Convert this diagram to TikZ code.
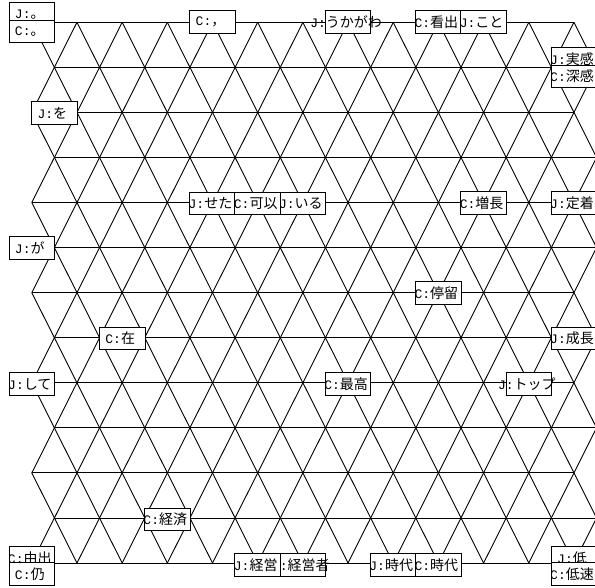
\documentclass[tikz,border=0pt]{standalone}
\usepackage{fontspec}
\newfontfamily\jp{Noto Sans CJK JP}
\newfontfamily\pf{Liberation Mono}
\tikzset{
  grid/.style={line width=0.9pt, black},
  box/.style={draw=black, line width=0.9pt, fill=white, minimum width=45.6pt, minimum height=22.6pt, inner sep=0pt, outer sep=0pt},
  txt/.style={inner sep=0pt, font=\jp\fontsize{14}{14}\selectfont, anchor=center}
}
% name, x, y, prefix, text, extra clip left, extra clip right
\newcommand\lbl[7]{%
  \node[box] (#1) at (#2,#3) {};
  \begin{scope}
    \clip ([xshift=-#6pt]#1.south west) rectangle ([xshift=#7pt]#1.north east);
    \node[txt] (#1t) at ([xshift=-2pt]#1.center) {{\pf\fontsize{13}{13}\selectfont #4}#5};
  \end{scope}}
\begin{document}
\begin{tikzpicture}[x=1pt,y=-1pt]
\useasboundingbox (0,0) rectangle (595,588);
\fill[white] (0,0) rectangle (595,588);
\clip (0,0) rectangle (595,588);
\def\xo{31.8}\def\sx{45.18}\def\yo{22.3}\def\sy{45.06}
% lattice vertices
\foreach \r in {0,...,12}{
  \foreach \k in {0,...,12}{
    \pgfmathsetmacro\xx{\xo+\sx*\k+mod(\r,2)*\sx/2}
    \pgfmathsetmacro\yy{\yo+\sy*\r}
    \coordinate (v\r-\k) at (\xx,\yy);
  }
}
% horizontal edges
\foreach \r in {0,...,12}{ \draw[grid] (v\r-0) -- (v\r-12); }
% diagonal edges
\foreach \r in {0,...,11}{
  \pgfmathtruncatemacro\rn{\r+1}
  \pgfmathtruncatemacro\pp{mod(\r,2)}
  \foreach \k in {0,...,12}{
    \draw[grid] (v\r-\k) -- (v\rn-\k);
    \ifnum\pp=0
      \ifnum\k>0 \pgfmathtruncatemacro\km{\k-1}\draw[grid] (v\r-\k) -- (v\rn-\km);\fi
    \else
      \ifnum\k<12 \pgfmathtruncatemacro\kp{\k+1}\draw[grid] (v\r-\k) -- (v\rn-\kp);\fi
    \fi
  }
}
% labels
\lbl{ja}{31.8}{14.2}{J:}{。}{0}{0}
\lbl{ca}{31.8}{31.6}{C:}{。}{0}{0}
\lbl{cb}{212.5}{22}{C:}{，}{0}{0}
\lbl{jc}{348.1}{22}{J:}{うかがわ}{20}{20}
\lbl{cd}{438.4}{22}{C:}{看出}{0}{0}
\lbl{je}{483.6}{22}{J:}{こと}{0}{0}
\lbl{jf}{574}{59}{J:}{実感}{0}{0}
\lbl{cf}{574}{76.5}{C:}{深感}{0}{0}
\lbl{jg}{54.4}{113}{J:}{を}{0}{0}
\lbl{jh}{212.5}{203.3}{J:}{せた}{0}{0}
\lbl{ci}{257.7}{203.3}{C:}{可以}{0}{0}
\lbl{jj}{302.9}{203.3}{J:}{いる}{0}{0}
\lbl{ck}{483.6}{203}{C:}{増長}{0}{0}
\lbl{jl}{574}{203}{J:}{定着}{0}{0}
\lbl{jm}{31.8}{248}{J:}{が}{0}{0}
\lbl{cn}{438.4}{292.8}{C:}{停留}{0}{0}
\lbl{co}{122.2}{338.5}{C:}{在}{0}{0}
\lbl{jp}{574}{338.5}{J:}{成長}{0}{0}
\lbl{jq}{31.8}{384}{J:}{して}{0}{0}
\lbl{cr}{348.1}{383.8}{C:}{最高}{0}{0}
\lbl{js}{528.8}{384}{J:}{トップ}{20}{20}
\lbl{ct}{167.3}{519.5}{C:}{経済}{0}{0}
\lbl{cu}{31.8}{558}{C:}{由出}{0}{0}
\lbl{cv}{31.8}{574}{C:}{仍}{0}{0}
\lbl{jw}{257.7}{564.7}{J:}{経営}{0}{0}
\lbl{cx}{302.9}{564.7}{C:}{経営者}{0}{20}
\lbl{jy}{393.2}{564.7}{J:}{時代}{0}{0}
\lbl{cz}{438.4}{564.7}{C:}{時代}{0}{0}
\lbl{jlo}{574}{558}{J:}{低}{0}{0}
\lbl{clo}{574}{574}{C:}{低速}{0}{0}
\end{tikzpicture}
\end{document}
